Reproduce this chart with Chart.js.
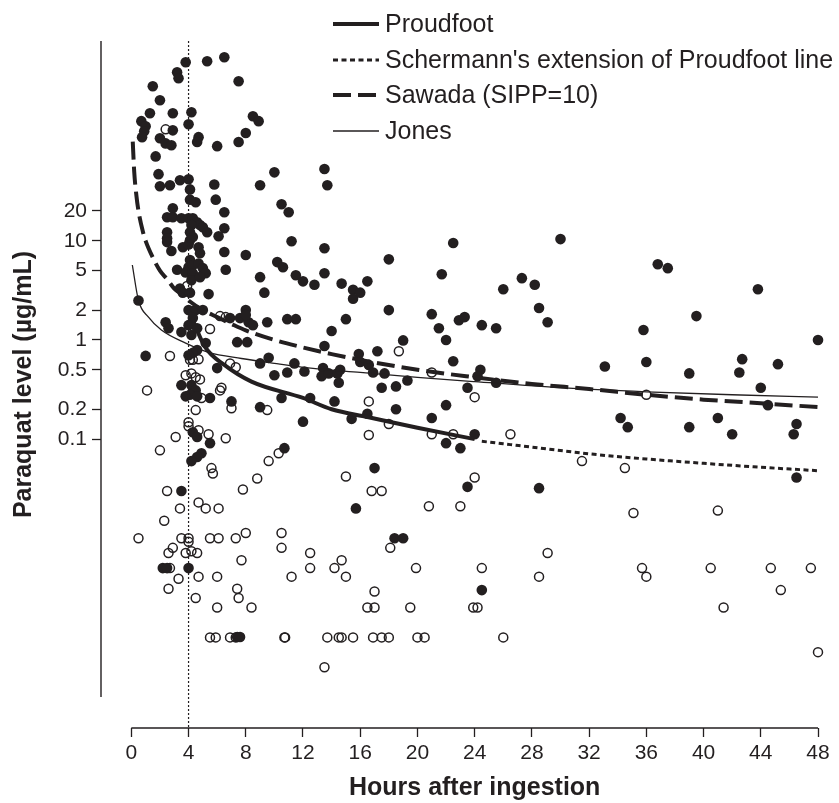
<!DOCTYPE html>
<html>
<head>
<meta charset="utf-8">
<script src="https://cdn.jsdelivr.net/npm/chart.js@4.4.1/dist/chart.umd.min.js"></script>
<style>
  html, body { margin: 0; padding: 0; background: #fff; }
  #wrap { width: 839px; height: 803px; }
</style>
</head>
<body>
<div id="wrap"><canvas id="chart-0" width="839" height="803"></canvas></div>
<script>
// axis settings
var xTicks = [0, 4, 8, 12, 16, 20, 24, 28, 32, 36, 40, 44, 48];
var yTicks = [0.1, 0.2, 0.5, 1, 2, 5, 10, 20];
var xMin = -2.12, xMax = 48;
var yMin = 0.000122, yMax = 1035;

// nomogram lines, [hours, level]
var proudfootLine = [[4, 2.0], [4.35, 1.52], [5.15, 0.85], [6.5, 0.56], [8.4, 0.38], [12, 0.26], [14, 0.2], [16.5, 0.167], [20, 0.13], [24, 0.1]];
var schermannLine = [[24.5, 0.095], [28, 0.083], [32, 0.071], [36, 0.063], [40, 0.057], [44, 0.052], [48, 0.048]];
var sawadaLine = [[0.1, 100], [0.2, 50], [0.35, 29], [0.5, 20], [0.8, 12.5], [1, 10], [1.5, 6.8], [2, 5], [2.5, 4.1], [3, 3.3], [3.5, 2.9], [4, 2.5],
  [5, 2], [6, 1.7], [7, 1.45], [8, 1.25], [10, 1.0], [12, 0.84], [14, 0.72], [16, 0.63], [20, 0.5], [24, 0.42], [28, 0.36], [32, 0.32],
  [36, 0.28], [40, 0.25], [44, 0.23], [48, 0.21]];
var jonesLine = [[0.07, 5.7], [0.5, 2.5], [1.2, 1.7], [2.1, 1.26], [3.8, 0.93], [5.4, 0.75], [7.7, 0.65], [10, 0.58], [12, 0.53], [16, 0.47],
  [20, 0.42], [24, 0.38], [30, 0.33], [36, 0.3], [42, 0.28], [48, 0.265]];

// patients, [hours, level]
var filledPoints = [
  [6.5,710],[5.3,646],[3.8,631],[3.2,501],[3.3,436],[1.5,362],[7.5,406],[2.0,261],[1.3,193],[2.9,193],[4.2,198],[4.0,150],
  [0.7,161],[1.0,143],[0.9,127],[0.75,111],[2.9,130],[2.0,108],[2.4,96],[2.8,92],[4.7,111],[4.6,99],[6.0,90],[8.5,180],
  [8.9,161],[8.0,122],[7.5,99],[1.7,71],[1.9,47],[2.0,35.5],[2.7,36.3],[3.4,40.8],[4.0,41.8],[4.1,33],[5.8,37],[5.9,26],
  [4.1,26],[4.5,24.5],[9.0,36.3],[10.0,49],[13.5,53],[13.7,36.3],[10.5,23.4],[11.0,19.4],[6.5,19.4],[2.9,21.3],[2.5,17.3],
  [2.9,17.3],[3.5,16.9],[4.0,16.9],[4.3,16.9],[4.6,15.4],[4.8,14.4],[5.0,13.7],[5.3,12.2],[4.2,14.4],[4.1,12.2],[4.3,10.9],
  [4.1,10.1],[2.5,12.2],[2.5,10.6],[2.5,9.7],[11.2,9.9],[6.5,13.4],[6.1,11.1],[2.8,7.9],[3.6,8.6],[4.0,9.2],[4.7,8.6],
  [4.8,7.5],[6.5,7.7],[8.0,7.2],[13.5,8.4],[18.0,6.5],[6.6,5.1],[4.1,6.4],[4.0,5.4],[4.3,5.7],[4.7,5.9],[5.0,5.3],[5.2,4.7],
  [3.2,5.1],[3.8,4.8],[4.3,4.7],[4.2,4.0],[4.8,4.3],[9.0,4.3],[9.3,3.0],[10.2,6.1],[10.6,5.4],[11.5,4.5],[12.0,3.9],[12.8,3.6],
  [13.5,4.7],[14.7,3.7],[15.5,3.2],[15.5,2.6],[16.0,3.0],[16.5,3.9],[5.4,2.9],[3.4,3.3],[3.6,3.0],[4.1,3.0],[0.5,2.5],
  [4.0,2.0],[4.5,2.0],[5.0,2.0],[4.3,1.66],[4.0,1.41],[2.4,1.51],[2.6,1.31],[3.5,1.2],[4.2,1.12],[4.6,1.31],[6.9,1.66],
  [7.6,1.66],[8.2,1.51],[8.5,1.41],[8.0,2.0],[8.0,1.78],[9.5,1.51],[10.9,1.62],[11.5,1.62],[15.0,1.62],[18.0,2.0],[14.0,1.23],
  [7.4,0.95],[8.1,0.95],[5.2,0.93],[13.5,0.87],[17.2,0.77],[19.0,0.99],[4.6,0.79],[4.3,0.74],[4.0,0.70],[1.0,0.69],[6.0,0.52],
  [9.0,0.58],[9.6,0.66],[10.0,0.44],[10.9,0.47],[11.4,0.58],[12.1,0.48],[13.4,0.52],[13.3,0.43],[13.8,0.46],[14.4,0.46],
  [14.6,0.50],[15.9,0.72],[16.0,0.60],[16.6,0.56],[16.9,0.47],[17.7,0.46],[14.5,0.37],[17.5,0.33],[18.5,0.34],[19.3,0.39],
  [10.5,0.26],[12.5,0.26],[14.2,0.24],[9.0,0.21],[7.0,0.24],[5.5,0.26],[16.5,0.18],[18.5,0.20],[12.0,0.15],[15.4,0.16],
  [10.7,0.081],[17.0,0.051],[15.7,0.020],[3.5,0.030],[18.4,0.010],[19.0,0.010],[2.2,0.0050],[2.5,0.0050],[4.0,0.0050],
  [7.4,0.00101],[7.6,0.00101],[3.5,0.35],[4.2,0.35],[4.5,0.31],[4.1,0.28],[3.8,0.27],[4.6,0.27],[5.5,0.091],[4.3,0.117],
  [4.6,0.105],[4.9,0.072],[4.6,0.066],[4.2,0.060],
  [22.5,9.5],[30.0,10.4],[21.7,4.6],[36.8,5.8],[37.5,5.3],[43.8,3.25],[26.0,3.25],[27.3,4.2],[28.2,3.6],[28.5,2.1],[29.1,1.51],
  [21.0,1.82],[21.5,1.31],[22.0,1.0],[22.9,1.58],[23.3,1.70],[24.5,1.41],[25.5,1.31],[39.5,1.74],[35.8,1.26],[48.0,1.0],
  [22.5,0.61],[33.1,0.54],[36.0,0.60],[42.7,0.64],[42.5,0.47],[45.2,0.57],[39.0,0.46],[24.4,0.50],[24.2,0.43],[25.5,0.37],
  [44.0,0.33],[23.5,0.33],[22.0,0.22],[44.5,0.22],[21.0,0.163],[34.2,0.163],[34.7,0.132],[39.0,0.132],[41.0,0.163],
  [42.0,0.112],[46.5,0.142],[46.3,0.112],[22.0,0.091],[23.0,0.081],[24.0,0.112],[46.5,0.041],[23.5,0.033],[28.5,0.032],
  [24.5,0.0030]
];
var openPoints = [
  [2.4,133],[3.9,3.5],[6.2,1.74],[6.6,1.70],[5.5,1.29],[18.7,0.77],[2.7,0.69],[4.1,0.63],[4.3,0.63],[4.7,0.64],[6.9,0.58],
  [7.3,0.53],[3.8,0.44],[4.2,0.46],[4.5,0.42],[4.8,0.40],[4.9,0.26],[1.1,0.31],[6.2,0.31],[6.3,0.33],[7.0,0.205],[9.5,0.196],
  [4.5,0.196],[4.0,0.148],[4.0,0.135],[4.7,0.123],[5.4,0.112],[3.1,0.105],[6.6,0.102],[2.0,0.077],[5.6,0.051],[5.7,0.045],
  [9.6,0.060],[8.8,0.040],[10.3,0.072],[2.5,0.030],[7.8,0.031],[16.6,0.24],[16.6,0.110],[18.0,0.142],[15.0,0.042],
  [16.8,0.030],[17.5,0.030],[3.4,0.020],[4.7,0.023],[5.2,0.020],[6.1,0.020],[2.3,0.015],[0.5,0.010],[3.5,0.010],[4.0,0.010],
  [4.0,0.0092],[5.5,0.010],[6.1,0.010],[7.3,0.010],[8.0,0.0113],[10.5,0.0113],[10.5,0.0080],[2.9,0.0080],[2.6,0.0071],
  [3.8,0.0071],[4.2,0.0074],[4.6,0.0071],[18.1,0.0080],[12.5,0.0071],[12.5,0.0050],[7.7,0.0060],[14.7,0.0060],[14.2,0.0050],
  [15.0,0.0041],[2.7,0.0050],[19.9,0.0050],[3.3,0.0039],[4.7,0.0041],[6.0,0.0041],[11.2,0.0041],[2.6,0.0031],[4.5,0.0025],
  [7.4,0.0031],[7.5,0.0025],[6.0,0.0020],[8.4,0.0020],[17.0,0.0029],[16.5,0.0020],[17.0,0.0020],[19.5,0.0020],
  [5.5,0.0010],[5.9,0.0010],[6.9,0.0010],[7.3,0.0010],[10.7,0.0010],[10.75,0.0010],[13.7,0.0010],[14.5,0.0010],[14.7,0.0010],
  [15.5,0.0010],[16.9,0.0010],[17.5,0.0010],[18.0,0.0010],[20.0,0.0010],[20.5,0.0010],[26.0,0.0010],[13.5,0.0005],
  [21.0,0.47],[24.0,0.265],[36.0,0.28],[21.0,0.112],[22.5,0.112],[26.5,0.112],[31.5,0.060],[34.5,0.051],[24.0,0.041],
  [20.8,0.021],[23.0,0.021],[35.1,0.018],[41.0,0.019],[29.1,0.0071],[24.5,0.0050],[28.5,0.0041],[35.7,0.0050],[36.0,0.0041],
  [40.5,0.0050],[44.7,0.0050],[47.5,0.0050],[45.4,0.0030],[23.9,0.0020],[24.2,0.0020],[41.4,0.0020],[48.0,0.00071]
];

var legendLabels = ["Proudfoot", "Schermann's extension of Proudfoot line", "Sawada (SIPP=10)", "Jones"];

var ink = "#231f20";
var fontFamily = '"Liberation Sans", Arial, Helvetica, sans-serif';

function toXY(list){
    return list.map(function(p){ return {x: p[0], y: p[1]}; });
}

function lineSet(label, list, width, dash){
    return {
        label: label,
        data: toXY(list),
        showLine: true,
        borderColor: ink,
        borderWidth: width,
        borderDash: dash,
        pointRadius: 0,
        tension: 0.4,
        cubicInterpolationMode: "monotone",
        fill: false,
        clip: false
    };
}

// axis lines, titles and legend drawn R-style
var framePlugin = {
    id: "frame",
    afterDraw: function(chart){
        var ctx = chart.ctx, area = chart.chartArea, x = chart.scales.x;
        var x0 = x.getPixelForValue(xTicks[0]), x1 = x.getPixelForValue(xTicks[xTicks.length - 1]);
        ctx.save();
        ctx.strokeStyle = ink;
        ctx.lineWidth = 1.4;
        ctx.beginPath();
        ctx.moveTo(area.left, area.top);
        ctx.lineTo(area.left, area.bottom - 31);
        ctx.moveTo(x0, area.bottom);
        ctx.lineTo(x1, area.bottom);
        ctx.stroke();

        ctx.fillStyle = ink;
        ctx.font = "bold 25px " + fontFamily;
        ctx.textAlign = "center";
        ctx.textBaseline = "middle";
        ctx.fillText("Hours after ingestion", (x0 + x1) / 2, 788);
        ctx.save();
        ctx.translate(24, (area.top + area.bottom) / 2);
        ctx.rotate(-Math.PI / 2);
        ctx.fillText("Paraquat level (\u00b5g/mL)", 0, 0);
        ctx.restore();

        // legend
        ctx.font = "25px " + fontFamily;
        ctx.textAlign = "left";
        var rows = [24, 60, 95, 131];
        for (var i = 0; i < legendLabels.length; i++){
            var ds = chart.data.datasets[i];
            ctx.beginPath();
            ctx.lineWidth = ds.borderWidth;
            ctx.setLineDash(ds.borderDash || []);
            ctx.moveTo(333, rows[i]);
            ctx.lineTo(379, rows[i]);
            ctx.stroke();
            ctx.setLineDash([]);
            ctx.fillText(legendLabels[i], 385, rows[i] + 1);
        }
        ctx.restore();
    }
};

function loadNomogram(){
    new Chart(document.getElementById("chart-0"), {
        type: "scatter",
        data: {
            datasets: [
                lineSet("Proudfoot", proudfootLine, 4, []),
                lineSet("Schermann", schermannLine, 3, [5, 3.5]),
                lineSet("Sawada", sawadaLine, 4, [18, 7]),
                lineSet("Jones", jonesLine, 1.3, []),
                {
                    label: "4 h",
                    data: [{x: 4, y: yMax}, {x: 4, y: yMin}],
                    showLine: true,
                    borderColor: ink,
                    borderWidth: 1.2,
                    borderDash: [2, 2],
                    pointRadius: 0
                },
                {
                    label: "filled",
                    data: toXY(filledPoints),
                    pointRadius: 5.3,
                    pointBackgroundColor: ink,
                    pointBorderColor: ink,
                    pointBorderWidth: 0,
                    clip: false
                },
                {
                    label: "open",
                    data: toXY(openPoints),
                    pointRadius: 4.5,
                    pointBackgroundColor: "rgba(255,255,255,0)",
                    pointBorderColor: ink,
                    pointBorderWidth: 1.5,
                    clip: false
                }
            ]
        },
        options: {
            responsive: false,
            animation: false,
            events: [],
            layout: {padding: {left: 0, top: 41, right: 21, bottom: 0}},
            plugins: {legend: {display: false}, tooltip: {enabled: false}},
            scales: {
                x: {
                    type: "linear",
                    min: xMin,
                    max: xMax,
                    afterBuildTicks: function(scale){ scale.ticks = xTicks.map(function(v){ return {value: v}; }); },
                    afterFit: function(scale){ scale.height = 75; },
                    border: {display: false},
                    grid: {drawOnChartArea: false, drawTicks: true, tickLength: 9, tickColor: ink, tickWidth: 1.3},
                    ticks: {color: ink, font: {size: 21, family: fontFamily}, padding: 4, autoSkip: false, maxRotation: 0,
                            callback: function(v){ return String(v); }}
                },
                y: {
                    type: "logarithmic",
                    min: yMin,
                    max: yMax,
                    afterBuildTicks: function(scale){ scale.ticks = yTicks.map(function(v){ return {value: v}; }); },
                    afterFit: function(scale){ scale.width = 101; },
                    border: {display: false},
                    grid: {drawOnChartArea: false, drawTicks: true, tickLength: 9, tickColor: ink, tickWidth: 1.3},
                    ticks: {color: ink, font: {size: 21, family: fontFamily}, padding: 5, autoSkip: false,
                            callback: function(v){ return String(v); }}
                }
            }
        },
        plugins: [framePlugin]
    });
}

loadNomogram();
</script>
</body>
</html>
